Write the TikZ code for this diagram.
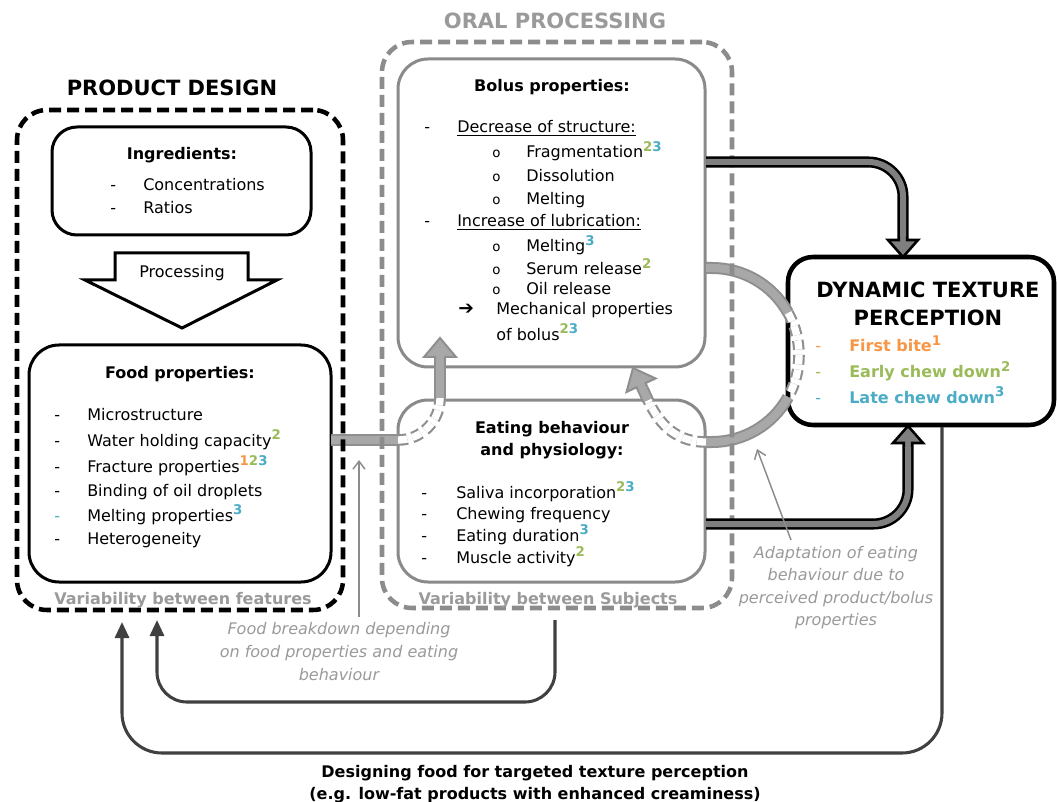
\documentclass[tikz,border=0pt]{standalone}
\usepackage{fontspec}
\setmainfont{DejaVu Sans}
\usetikzlibrary{arrows.meta,calc}
\definecolor{cOr}{HTML}{F79646}
\definecolor{cGr}{HTML}{9BBB59}
\definecolor{cBl}{HTML}{4BACC6}
\definecolor{gFrame}{HTML}{8C8C8C}
\definecolor{gBox}{HTML}{8A8A8A}
\definecolor{gTxt}{HTML}{9A9A9A}
\definecolor{gArrOut}{HTML}{8F8F8F}
\definecolor{gArrIn}{HTML}{A8A8A8}
\definecolor{dArrIn}{HTML}{7F7F7F}
\definecolor{loopC}{HTML}{404040}
\newcommand\li[3]{\makebox[#1][l]{#2}#3}
\newcommand\sps[2]{\raisebox{0.42em}{\fontsize{10}{10}\selectfont\bfseries\color{#1}#2}}
\newcommand\bul{{\fontsize{10}{10}\selectfont o}}
\begin{document}
\begin{tikzpicture}[x=0.75pt,y=-0.75pt,
  tx/.style={inner sep=0pt, font=\fontsize{12}{14.4}\selectfont, anchor=base west},
  txc/.style={inner sep=0pt, font=\fontsize{12}{14.4}\selectfont, anchor=base},
  hd/.style={inner sep=0pt, font=\fontsize{12}{14.4}\selectfont\bfseries, anchor=base},
  big/.style={inner sep=0pt, font=\fontsize{15.75}{19}\selectfont\bfseries, anchor=base},
  ann/.style={inner sep=0pt, font=\fontsize{12}{14.4}\selectfont\itshape, text=gTxt, anchor=base},
  blackbox/.style={draw=black, line width=2.25pt, fill=white, rounded corners=22.5pt, inner sep=0pt},
  graybox/.style={draw=gBox, line width=2.25pt, fill=white, rounded corners=22.5pt, inner sep=0pt},
  framepd/.style={draw=black, line width=3.4pt, dash pattern=on 9pt off 4.5pt, rounded corners=22.5pt, inner sep=0pt},
  frameop/.style={draw=gFrame, line width=3.4pt, dash pattern=on 9pt off 4.5pt, rounded corners=22.5pt, inner sep=0pt},
  darr/.style={draw=black, line width=1.9pt, double=dArrIn, double distance=4.5pt, rounded corners=26pt},
  garr/.style={draw=gArrOut, line width=1.5pt, double=gArrIn, double distance=6pt},
  ghid/.style={draw=gArrOut, line width=1.6pt, double=white, double distance=5.5pt, dash pattern=on 7pt off 4pt},
  dhead/.style={draw=black, fill=dArrIn, line width=1.9pt},
  ghead/.style={draw=gArrOut, fill=gArrIn, line width=1.5pt},
  loopst/.style={draw=loopC, line width=2.3pt, -{Triangle[length=12pt,width=10.5pt]}},
  thinst/.style={draw=gFrame, line width=1.1pt, -{Straight Barb[length=6pt,width=9pt]}}
]
\useasboundingbox (0,0) rectangle (1057,802);
\fill[white] (0,0) rectangle (1057,802);

% inner boxes
\node[blackbox, rounded corners=18.75pt, minimum width=194.25pt, minimum height=81pt] (ingr) at (181.5,181) {};
\node[blackbox, minimum width=226.5pt, minimum height=177.75pt] (food) at (180,463.5) {};
\node[graybox, minimum width=230.25pt, minimum height=231pt] (bolus) at (551.5,213) {};
\node[graybox, minimum width=230.25pt, minimum height=136.5pt] (eat) at (551.5,491) {};
\node[blackbox, line width=3.4pt, rounded corners=18.75pt, minimum width=199.5pt, minimum height=126pt] (dtp) at (921,341) {};

% processing arrow
\draw[line width=2.25pt, fill=white, line join=miter] (115,253) -- (248,253) -- (248,280) -- (277,280) -- (182,328) -- (85,280) -- (115,280) -- cycle;

% coordinates
\coordinate (g1s) at (331,440);
\coordinate (g1a) at (398,440);
\coordinate (g1b) at (440,398);
\coordinate (g1e) at (440,361);
\coordinate (g1t) at (440,338);
\coordinate (g2s) at (706,268);
\coordinate (g2a) at (712,268);
\coordinate (g2c) at (712,355);
\coordinate (g2b) at ($(g2c)+(-29:87)$);
\coordinate (g2d) at ($(g2c)+(29:87)$);
\coordinate (g2f) at (706,442);
\coordinate (g2g) at (647.9,400);
\coordinate (g2t) at (633,368);
\coordinate (g2h) at ($(g2t)+(9.72,20.84)$);

% gray arrows
\draw[garr] (g1s) -- (g1a);
\draw[ghid] (g1a) arc[start angle=90,end angle=0,radius=42];
\draw[garr] (g1b) -- (g1e);
\begin{scope}[shift={(g1t)}]
\filldraw[ghead] (-5,23) -- (-5,19) -- (-16,19) -- (0,0) -- (16,19) -- (5,19) -- (5,23);
\end{scope}
\draw[garr] (g2s) -- (g2a) arc[start angle=-90,end angle=-29,radius=87];
\draw[ghid] (g2b) arc[start angle=-29,end angle=29,radius=87];
\draw[garr] (g2d) arc[start angle=29,end angle=90,radius=87] -- (g2f);
\draw[ghid] (g2f) .. controls (672,442) and (657,419) .. (g2g);
\draw[garr] (g2g) -- (g2h);
\begin{scope}[shift={(g2t)}, rotate=25]
\filldraw[ghead] (-5,23) -- (-5,19) -- (-16,19) -- (0,0) -- (16,19) -- (5,19) -- (5,23);
\end{scope}

% frames
\node[framepd, minimum width=244.5pt, minimum height=375pt] (pd) at (180,360) {};
\node[frameop, minimum width=262.5pt, minimum height=424.5pt] (op) at (557,325) {};

% dark arrows
\coordinate (a1s) at (706,162);
\coordinate (a1c) at (903,162);
\coordinate (a1e) at (903,236);
\coordinate (a1t) at (903,257);
\coordinate (a2s) at (706,524);
\coordinate (a2c) at (908,524);
\coordinate (a2e) at (908,447);
\coordinate (a2t) at (908,426);
\draw[darr] (a1s) -- (a1c) -- (a1e);
\begin{scope}[shift={(a1t)}, rotate=180]
\filldraw[dhead] (-4.25,21) -- (-4.25,17) -- (-15,17) -- (0,0) -- (15,17) -- (4.25,17) -- (4.25,21);
\end{scope}
\draw[darr] (a2s) -- (a2c) -- (a2e);
\begin{scope}[shift={(a2t)}]
\filldraw[dhead] (-4.25,21) -- (-4.25,17) -- (-15,17) -- (0,0) -- (15,17) -- (4.25,17) -- (4.25,21);
\end{scope}

% loops
\coordinate (l1s) at (555,620);
\coordinate (l1a) at (555,702);
\coordinate (l1b) at (157,702);
\coordinate (l1t) at (157,620);
\coordinate (l2s) at (942,427);
\coordinate (l2a) at (942,753);
\coordinate (l2b) at (122,753);
\coordinate (l2t) at (122,622);
\draw[loopst, rounded corners=22.5pt] (l1s) -- (l1a) -- (l1b) -- (l1t);
\draw[loopst, rounded corners=30pt] (l2s) -- (l2a) -- (l2b) -- (l2t);

% thin annotation arrows
\coordinate (t1s) at (359,617);
\coordinate (t1t) at (359,460);
\coordinate (t2s) at (791,540);
\coordinate (t2t) at (757,449);
\draw[thinst] (t1s) -- (t1t);
\draw[thinst] (t2s) -- (t2t);

% titles
\node[big] (tpd) at (172,96) {PRODUCT DESIGN};
\node[big, text=gTxt] (top) at (555,28.5) {ORAL PROCESSING};

% ingredients
\node[hd] (iT) at (182,160) {Ingredients:};
\node[tx] (i1) at (110,191) {\li{24.75pt}{-}{Concentrations}};
\node[tx] (i2) at (110,214) {\li{24.75pt}{-}{Ratios}};
\node[txc] (proc) at (182,278) {Processing};

% food properties
\node[hd] (fT) at (180,378.5) {Food properties:};
\node[tx] (f1) at (54,421) {\li{24.75pt}{-}{Microstructure}};
\node[tx] (f2) at (54,446) {\li{24.75pt}{-}{Water holding capacity\sps{cGr}{2}}};
\node[tx] (f3) at (54,472) {\li{24.75pt}{-}{Fracture properties\sps{cOr}{1}\sps{cGr}{2}\sps{cBl}{3}}};
\node[tx] (f4) at (54,496) {\li{24.75pt}{-}{Binding of oil droplets}};
\node[tx] (f5) at (54,521) {\li{24.75pt}{\color{cBl}-}{Melting properties\sps{cBl}{3}}};
\node[tx] (f6) at (54,544) {\li{24.75pt}{-}{Heterogeneity}};
\node[hd, text=gTxt] (vf) at (183,604) {Variability between features};

% bolus
\node[hd] (bT) at (552,92) {Bolus properties:};
\node[tx] (b1) at (424,133) {\li{24.75pt}{-}{\underline{Decrease of structure:}}};
\node[tx] (b2) at (492,158) {\li{25.5pt}{\bul}{Fragmentation\sps{cGr}{2}\sps{cBl}{3}}};
\node[tx] (b3) at (492,182) {\li{25.5pt}{\bul}{Dissolution}};
\node[tx] (b4) at (492,205) {\li{25.5pt}{\bul}{Melting}};
\node[tx] (b5) at (424,227) {\li{24.75pt}{-}{\underline{Increase of lubrication:}}};
\node[tx] (b6) at (492,252) {\li{25.5pt}{\bul}{Melting\sps{cBl}{3}}};
\node[tx] (b7) at (492,275) {\li{25.5pt}{\bul}{Serum release\sps{cGr}{2}}};
\node[tx] (b8) at (492,295) {\li{25.5pt}{\bul}{Oil release}};
\node[tx] (b9) at (458,315) {\li{28.5pt}{{\fontsize{14}{14}\selectfont ➔}}{Mechanical properties}};
\node[tx] (b10) at (496,340) {of bolus\sps{cGr}{2}\sps{cBl}{3}};

% eating
\node[hd] (eT1) at (552,433) {Eating behaviour};
\node[hd] (eT2) at (552,455) {and physiology:};
\node[tx] (e1) at (421,498) {\li{26.25pt}{-}{Saliva incorporation\sps{cGr}{2}\sps{cBl}{3}}};
\node[tx] (e2) at (421,519) {\li{26.25pt}{-}{Chewing frequency}};
\node[tx] (e3) at (421,541) {\li{26.25pt}{-}{Eating duration\sps{cBl}{3}}};
\node[tx] (e4) at (421,563) {\li{26.25pt}{-}{Muscle activity\sps{cGr}{2}}};
\node[hd, text=gTxt] (vs) at (548,604) {Variability between Subjects};

% dynamic texture perception
\node[big] (dT1) at (928,298) {DYNAMIC TEXTURE};
\node[big] (dT2) at (928,326) {PERCEPTION};
\node[tx] (d1) at (815,352) {\li{25.5pt}{\color{cOr}-}{\color{cOr}\bfseries First bite\sps{cOr}{1}}};
\node[tx] (d2) at (815,378) {\li{25.5pt}{\color{cGr}-}{\color{cGr}\bfseries Early chew down\sps{cGr}{2}}};
\node[tx] (d3) at (815,403) {\li{25.5pt}{\color{cBl}-}{\color{cBl}\bfseries Late chew down\sps{cBl}{3}}};

% annotations
\node[ann] (n1) at (339,634) {Food breakdown depending};
\node[ann] (n2) at (339,657) {on food properties and eating};
\node[ann] (n3) at (339,680) {behaviour};
\node[ann] (m1) at (836,558) {Adaptation of eating};
\node[ann] (m2) at (836,580) {behaviour due to};
\node[ann] (m3) at (836,603) {perceived product/bolus};
\node[ann] (m4) at (836,625) {properties};

% bottom caption
\node[hd] (c1) at (535,777) {Designing food for targeted texture perception};
\node[hd] (c2) at (535,799) {(e.g. low-fat products with enhanced creaminess)};
\end{tikzpicture}
\end{document}
